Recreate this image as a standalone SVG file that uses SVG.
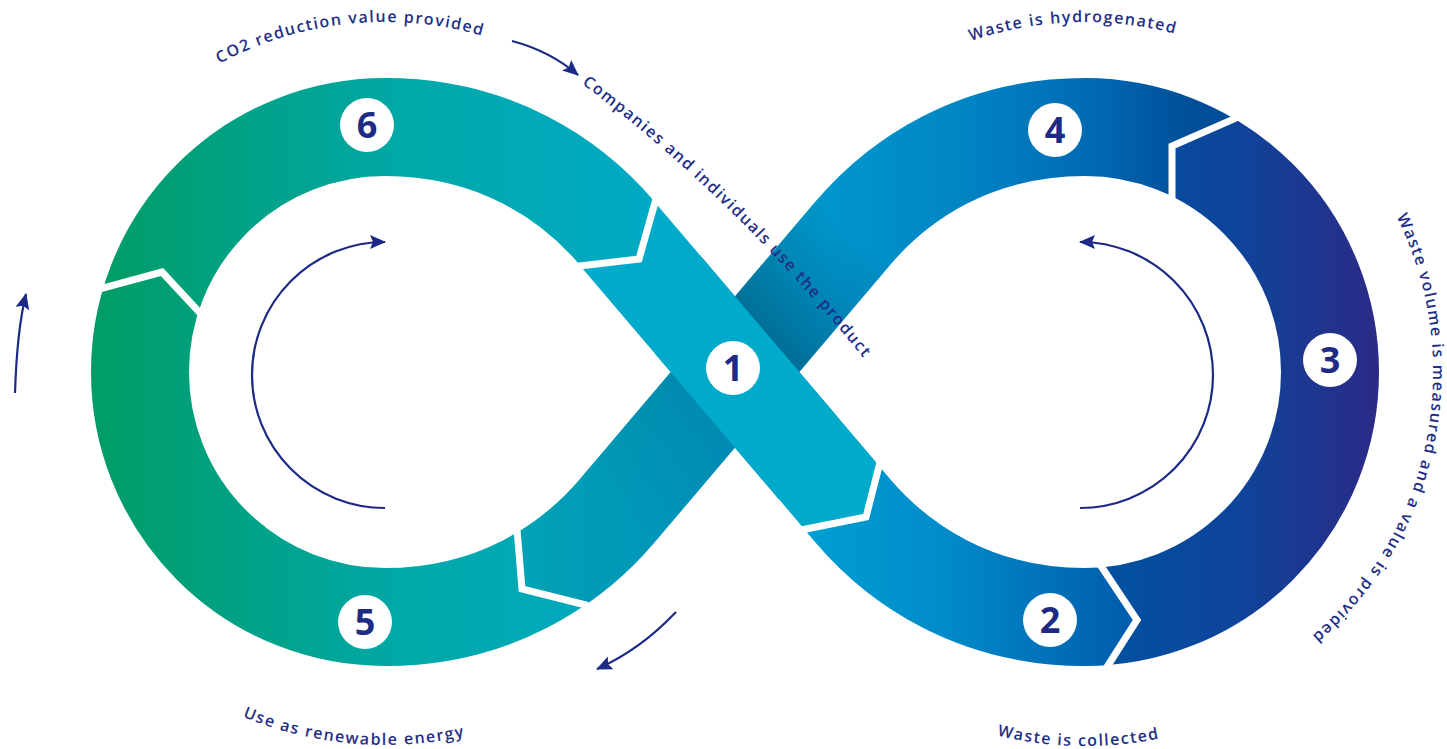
<svg xmlns="http://www.w3.org/2000/svg" width="1447" height="749" viewBox="0 0 1447 749">
<style>
.band{fill:none;stroke-width:98}
.chev{fill:none;stroke:#fff;stroke-width:7;stroke-linejoin:miter;stroke-linecap:butt}
.badge{fill:#fff}
.num{font-family:"Open Sans","DejaVu Sans",sans-serif;font-weight:700;font-size:36px;fill:#1E2B84;text-anchor:middle}
.lbl{font-family:"Open Sans","Liberation Sans",sans-serif;font-weight:600;font-size:16px;fill:#1F2F87;letter-spacing:1.5px}
.arr{fill:none;stroke:#1C2A86;stroke-width:2.2}
</style>
<defs>
<path id="inf" d="M735,372 L617,233 C571.6,179.7 495,127 385,127 A245,245 0 0 0 140,372 A245,245 0 0 0 385,617 C495,617 571.6,564.3 617,511 L853,233 C898.4,179.7 975,127 1085,127 A245,245 0 0 1 1330,372 A245,245 0 0 1 1085,617 C975,617 898.4,564.3 853,511 Z"/>
<linearGradient id="g56" gradientUnits="userSpaceOnUse" x1="90" y1="0" x2="660" y2="0">
<stop offset="0" stop-color="#009C64"/><stop offset="0.28" stop-color="#00A287"/><stop offset="0.54" stop-color="#00A8A6"/><stop offset="1" stop-color="#00AAC6"/>
</linearGradient>
<linearGradient id="g1" gradientUnits="userSpaceOnUse" x1="580" y1="0" x2="880" y2="0">
<stop offset="0" stop-color="#00AACA"/><stop offset="1" stop-color="#00A3D2"/>
</linearGradient>
<linearGradient id="g2" gradientUnits="userSpaceOnUse" x1="790" y1="0" x2="1120" y2="0">
<stop offset="0" stop-color="#00A2D3"/><stop offset="0.5" stop-color="#0089C9"/><stop offset="1" stop-color="#005EAE"/>
</linearGradient>
<linearGradient id="g3" gradientUnits="userSpaceOnUse" x1="1095" y1="0" x2="1380" y2="0">
<stop offset="0" stop-color="#0052A2"/><stop offset="0.5" stop-color="#0E449A"/><stop offset="1" stop-color="#2B2A86"/>
</linearGradient>
<linearGradient id="g4" gradientUnits="userSpaceOnUse" x1="510" y1="0" x2="1190" y2="0">
<stop offset="0" stop-color="#00A3B4"/><stop offset="0.191" stop-color="#0098B9"/><stop offset="0.331" stop-color="#0093BE"/><stop offset="0.47" stop-color="#0096CB"/><stop offset="0.662" stop-color="#0086C4"/><stop offset="0.868" stop-color="#0068B2"/><stop offset="1" stop-color="#004E98"/>
</linearGradient>
<linearGradient id="sh" gradientUnits="userSpaceOnUse" x1="617" y1="511" x2="853" y2="233">
<stop offset="0" stop-color="#001A33" stop-opacity="0"/><stop offset="0.36" stop-color="#001A33" stop-opacity="0.08"/><stop offset="0.5" stop-color="#001A33" stop-opacity="0.3"/><stop offset="0.636" stop-color="#001A33" stop-opacity="0.3"/><stop offset="0.85" stop-color="#001A33" stop-opacity="0.1"/><stop offset="1" stop-color="#001A33" stop-opacity="0"/>
</linearGradient>
<clipPath id="c2"><polygon points="801,530 866,517 880,462.5 893,410 1085,372 1103,569 1137,620 1107,667 1080,710 1080,749 700,749 740,542"/></clipPath>
<clipPath id="c3"><polygon points="1103,569 1085,372 1172,197 1172,146 1236,118 1300,90 1300,0 1447,0 1447,749 1080,749 1080,710 1107,667 1137,620"/></clipPath>
<clipPath id="c4"><polygon points="1172,146 1172,197 900,380 798,440 760,560 640,619 582,604 522,589 517,529 600,420 700,300 700,0 1300,0 1300,90 1236,118"/></clipPath>
<clipPath id="c5"><polygon points="522,589 582,604 640,619 640,749 0,749 0,310 40,305 103,288 162,272 200,313 385,372 517,529"/></clipPath>
<clipPath id="c6"><polygon points="103,288 40,305 0,310 0,0 670,0 670,150 656,199 639,259 577,266 385,372 200,313 162,272"/></clipPath>
<marker id="ah" markerWidth="20" markerHeight="16" refX="15" refY="7" orient="auto" markerUnits="userSpaceOnUse">
<path d="M0,0 L16,7 L0,14 L3,7 Z" fill="#1C2A86"/>
</marker>
<path id="p1" d="M116.9,147 A350,350 0 0 1 600.5,96.2"/>
<path id="p2" d="M565,71 L585,86 Q734,198 865,360 L877.6,375.5"/>
<path id="p3" d="M860,103.9 A350,350 0 0 1 1290.7,88.8"/>
<path id="p4" d="M1331.1,125.9 A348,348 0 0 1 1215.4,694.7"/>
<path id="p5" d="M171.1,677.5 A373,373 0 0 0 542.6,710.1"/>
<path id="p6" d="M892.3,692.6 A374,374 0 0 0 1266.3,699.1"/>
</defs>

<g id="step-4">
<g clip-path="url(#c4)"><use href="#inf" class="band" stroke="url(#g4)"/></g>
<line x1="617" y1="511" x2="853" y2="233" stroke="url(#sh)" stroke-width="98"/>
<circle class="badge" cx="1055" cy="130" r="27"/>
<text class="num" x="1055" y="143">4</text>
</g>
<g id="step-2">
<g clip-path="url(#c2)"><use href="#inf" class="band" stroke="url(#g2)"/></g>
<circle class="badge" cx="1050" cy="620" r="27"/>
<text class="num" x="1050" y="633">2</text>
</g>
<g id="step-3">
<g clip-path="url(#c3)"><use href="#inf" class="band" stroke="url(#g3)"/></g>
<circle class="badge" cx="1330" cy="360" r="27"/>
<text class="num" x="1330" y="373">3</text>
</g>
<g id="step-5">
<g clip-path="url(#c5)"><use href="#inf" class="band" stroke="url(#g56)"/></g>
<circle class="badge" cx="365" cy="622" r="27"/>
<text class="num" x="365" y="635">5</text>
</g>
<g id="step-6">
<g clip-path="url(#c6)"><use href="#inf" class="band" stroke="url(#g56)"/></g>
<circle class="badge" cx="367" cy="125" r="27"/>
<text class="num" x="367" y="138">6</text>
</g>
<g id="step-1">
<polygon transform="translate(735 372) rotate(49.6)" points="-181,-49 -148,0 -181,49 164.7,49 195,-6 165.1,-49" fill="url(#g1)"/>
<circle class="badge" cx="733" cy="368" r="27"/>
<text class="num" x="733" y="381">1</text>
</g>

<g id="separators">
<polyline class="chev" points="657.6,193.2 639,259 571,266.9"/>
<polyline class="chev" points="881.5,456.7 866,517 795,531.2"/>
<polyline class="chev" points="1099.7,564 1137,620 1103.8,672"/>
<polyline class="chev" points="1241.5,115.6 1172,146 1172,203"/>
<polyline class="chev" points="516.5,523 522,589 587.8,605.5"/>
<polyline class="chev" points="97.2,289.6 162,272 204.1,317.4"/>
</g>

<g id="connectors">
<path class="arr" d="M385,508 A133,133 0 0 1 385,242" marker-end="url(#ah)"/>
<path class="arr" d="M1080,508 A133,133 0 0 0 1080,242" marker-end="url(#ah)"/>
<path class="arr" d="M512,41 Q550,51 578,75" marker-end="url(#ah)"/>
<path class="arr" d="M15,393 Q17,330 26,294" marker-end="url(#ah)"/>
<path class="arr" d="M676,612 Q640,650 597,669" marker-end="url(#ah)"/>
</g>

<g id="labels">
<text class="lbl"><textPath href="#p1" startOffset="50%" text-anchor="middle">CO2 reduction value provided</textPath></text>
<text class="lbl"><textPath href="#p2" startOffset="50%" text-anchor="middle">Companies and individuals use the product</textPath></text>
<text class="lbl"><textPath href="#p3" startOffset="50%" text-anchor="middle">Waste is hydrogenated</textPath></text>
<text class="lbl"><textPath href="#p4" startOffset="50%" text-anchor="middle">Waste volume is measured and a value is provided</textPath></text>
<text class="lbl"><textPath href="#p5" startOffset="50%" text-anchor="middle">Use as renewable energy</textPath></text>
<text class="lbl"><textPath href="#p6" startOffset="50%" text-anchor="middle">Waste is collected</textPath></text>
</g>
</svg>
